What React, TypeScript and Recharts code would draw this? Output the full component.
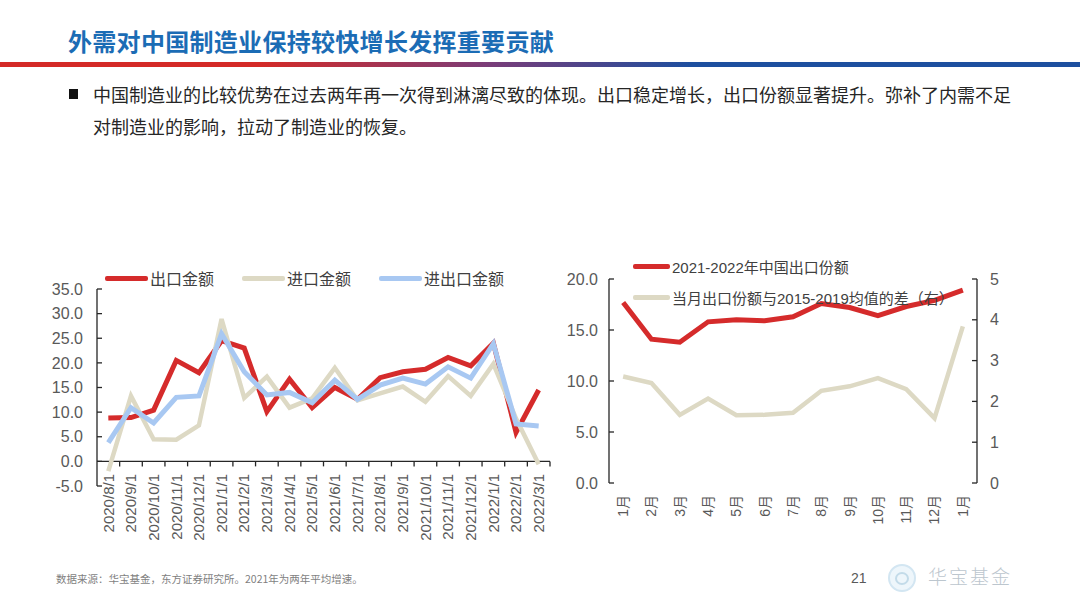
import React from "react";
import { LineChart, Line, XAxis, YAxis, Legend, ReferenceLine } from "recharts";

// 左图：进出口同比增速（%）
const tradeMonths = [
  "2020/8/1", "2020/9/1", "2020/10/1", "2020/11/1", "2020/12/1",
  "2021/1/1", "2021/2/1", "2021/3/1", "2021/4/1", "2021/5/1",
  "2021/6/1", "2021/7/1", "2021/8/1", "2021/9/1", "2021/10/1",
  "2021/11/1", "2021/12/1", "2022/1/1", "2022/2/1", "2022/3/1",
];
const exportGrowth = [8.8, 8.9, 10.4, 20.5, 18.0, 24.5, 23.0, 10.1, 16.7, 10.9, 15.0, 12.6, 17.0, 18.2, 18.7, 21.1, 19.4, 24.0, 5.9, 14.5];
const importGrowth = [-2.0, 13.3, 4.5, 4.4, 7.3, 28.9, 12.9, 17.2, 10.9, 12.8, 19.0, 12.4, 13.8, 15.2, 12.1, 17.3, 13.3, 19.8, 8.7, -0.6];
const totalGrowth = [3.8, 10.9, 7.8, 13.0, 13.3, 25.9, 18.2, 13.5, 14.0, 11.9, 16.5, 12.6, 15.5, 16.9, 15.7, 19.2, 16.9, 23.9, 7.6, 7.2];
const growthTicks = [-5, 0, 5, 10, 15, 20, 25, 30, 35];
const tradeSeries = ["出口金额", "进口金额", "进出口金额"];

// 右图：中国出口份额
const shareMonths = ["1月", "2月", "3月", "4月", "5月", "6月", "7月", "8月", "9月", "10月", "11月", "12月", "1月"];
const exportShare = [17.7, 14.1, 13.8, 15.8, 16.0, 15.9, 16.3, 17.6, 17.2, 16.4, 17.3, 17.9, 18.9];
const shareGap = [2.61, 2.45, 1.67, 2.07, 1.66, 1.67, 1.72, 2.26, 2.37, 2.57, 2.30, 1.59, 3.84];
const shareTicks = [0, 5, 10, 15, 20];
const gapTicks = [0, 1, 2, 3, 4, 5];
const shareSeries = ["2021-2022年中国出口份额", "当月出口份额与2015-2019均值的差（右）"];

const RED = "#d52b2b";
const TAN = "#ddd9c4";
const BLUE = "#a8c8f2";
const AXIS = "#262626";
const LABEL = "#595959";
const FONT = "'Liberation Sans', Arial, 'Noto Sans CJK SC', sans-serif";
const CJK = "'Noto Sans CJK SC', 'Liberation Sans', sans-serif";

const tradeData = tradeMonths.map((m, i) => ({
  idx: i,
  month: m,
  exp: exportGrowth[i],
  imp: importGrowth[i],
  total: totalGrowth[i],
}));

const shareData = shareMonths.map((m, i) => ({
  idx: i,
  month: m,
  share: exportShare[i],
  gap: shareGap[i],
}));

// rotated category label, read bottom-to-top, top end hung at the axis
const VerticalTick = (props: any) => {
  const { x, y, payload, labels, shift, fontSize } = props;
  const ty = y + shift;
  return (
    <text
      x={x}
      y={ty}
      dy="0.35em"
      transform={`rotate(-90 ${x} ${ty})`}
      textAnchor="end"
      fill={LABEL}
      fontSize={fontSize}
      fontFamily={FONT}
    >
      {labels[payload.value]}
    </text>
  );
};

// zero line with tick marks between the categories
const ZeroAxis = (props: any) => {
  const { x1, x2, y1 } = props;
  const n = tradeMonths.length;
  const step = (x2 - x1) / n;
  return (
    <g>
      <line x1={x1} x2={x2} y1={y1} y2={y1} stroke={AXIS} strokeWidth={1.3} />
      {tradeMonths.map((_, i) => (
        <line key={i} x1={x1 + step * (i + 1)} x2={x1 + step * (i + 1)} y1={y1} y2={y1 + 5} stroke={AXIS} strokeWidth={1.3} />
      ))}
    </g>
  );
};

// legend keeps the series order given in `order`
const LegendItems = (props: any) => {
  const { payload, vertical, lineWidth, gap, order } = props;
  const items = [...(payload || [])].sort((a: any, b: any) => order.indexOf(a.value) - order.indexOf(b.value));
  return (
    <div
      style={{
        display: "flex",
        flexDirection: vertical ? "column" : "row",
        gap,
        fontFamily: FONT,
        fontSize: vertical ? 15 : 16,
        color: "#404040",
        whiteSpace: "nowrap",
      }}
    >
      {items.map((p: any) => (
        <div key={p.value} style={{ display: "flex", alignItems: "center", height: 20 }}>
          <span style={{ display: "inline-block", width: lineWidth, height: 5, background: p.color, borderRadius: 2 }} />
          <span style={{ marginLeft: 2 }}>{p.value}</span>
        </div>
      ))}
    </div>
  );
};

const TradeChart = () => (
  <LineChart width={570} height={310} data={tradeData} margin={{ top: 39, right: 20, bottom: 4, left: 0 }}>
    <XAxis
      type="number"
      dataKey="idx"
      domain={[-0.5, tradeMonths.length - 0.5]}
      ticks={tradeData.map((d) => d.idx)}
      interval={0}
      axisLine={false}
      tickLine={false}
      tickSize={0}
      tickMargin={0}
      height={70}
      tick={<VerticalTick labels={tradeMonths} shift={-12} fontSize={15} />}
    />
    <YAxis
      type="number"
      domain={[-5, 35]}
      ticks={growthTicks}
      interval={0}
      width={97}
      tickFormatter={(v: number) => v.toFixed(1)}
      axisLine={{ stroke: AXIS, strokeWidth: 1.3 }}
      tickLine={{ stroke: AXIS, strokeWidth: 1.3 }}
      tickSize={-5}
      tickMargin={19}
      tick={{ fill: LABEL, fontSize: 16, fontFamily: FONT }}
    />
    <ReferenceLine y={0} shape={(p: any) => <ZeroAxis {...p} />} />
    <Legend
      layout="vertical"
      verticalAlign="middle"
      align="center"
      itemSorter={null as any}
      wrapperStyle={{ top: 18, left: 105, width: "auto", height: 20 }}
      content={(p: any) => <LegendItems {...p} order={tradeSeries} lineWidth={43} gap={28} />}
    />
    <Line type="linear" dataKey="exp" name={tradeSeries[0]} stroke={RED} strokeWidth={5} dot={false} isAnimationActive={false} />
    <Line type="linear" dataKey="imp" name={tradeSeries[1]} stroke={TAN} strokeWidth={4.5} dot={false} isAnimationActive={false} />
    <Line type="linear" dataKey="total" name={tradeSeries[2]} stroke={BLUE} strokeWidth={5} dot={false} isAnimationActive={false} />
  </LineChart>
);

const ShareChart = () => (
  <LineChart width={500} height={310} data={shareData} margin={{ top: 39, right: 0, bottom: 7, left: 0 }}>
    <XAxis
      xAxisId="edge"
      type="number"
      dataKey="idx"
      domain={[-0.5, shareMonths.length - 0.5]}
      ticks={shareMonths.slice(1).map((_, i) => i + 0.5)}
      interval={0}
      height={0}
      tick={false}
      axisLine={{ stroke: AXIS, strokeWidth: 1.3 }}
      tickLine={{ stroke: AXIS, strokeWidth: 1.3 }}
      tickSize={-5}
    />
    <XAxis
      xAxisId="label"
      type="number"
      dataKey="idx"
      domain={[-0.5, shareMonths.length - 0.5]}
      ticks={shareData.map((d) => d.idx)}
      interval={0}
      axisLine={false}
      tickLine={false}
      tickSize={0}
      tickMargin={0}
      height={60}
      tick={<VerticalTick labels={shareMonths} shift={12} fontSize={14} />}
    />
    <YAxis
      yAxisId="share"
      type="number"
      domain={[0, 20]}
      ticks={shareTicks}
      interval={0}
      width={89}
      tickFormatter={(v: number) => v.toFixed(1)}
      axisLine={{ stroke: AXIS, strokeWidth: 1.3 }}
      tickLine={{ stroke: AXIS, strokeWidth: 1.3 }}
      tickSize={-5}
      tickMargin={16}
      tick={{ fill: LABEL, fontSize: 16, fontFamily: FONT }}
    />
    <YAxis
      yAxisId="gap"
      orientation="right"
      type="number"
      domain={[0, 5]}
      ticks={gapTicks}
      interval={0}
      width={43}
      axisLine={{ stroke: AXIS, strokeWidth: 1.3 }}
      tickLine={{ stroke: AXIS, strokeWidth: 1.3 }}
      tickSize={-5}
      tickMargin={18}
      tick={{ fill: LABEL, fontSize: 16, fontFamily: FONT }}
    />
    <Legend
      layout="vertical"
      verticalAlign="middle"
      align="center"
      itemSorter={null as any}
      wrapperStyle={{ top: 16, left: 113, width: "auto" }}
      content={(p: any) => <LegendItems {...p} order={shareSeries} vertical lineWidth={37} gap={11} />}
    />
    <Line xAxisId="label" yAxisId="share" type="linear" dataKey="share" name={shareSeries[0]} stroke={RED} strokeWidth={5} dot={false} isAnimationActive={false} />
    <Line xAxisId="label" yAxisId="gap" type="linear" dataKey="gap" name={shareSeries[1]} stroke={TAN} strokeWidth={4.5} dot={false} isAnimationActive={false} />
  </LineChart>
);

export default function App() {
  return (
    <div style={{ position: "absolute", left: 0, top: 0, width: 1080, height: 608, background: "#fff", overflow: "hidden", fontFamily: CJK }}>
      <div style={{ position: "absolute", left: 68, top: 24, fontSize: 24, fontWeight: 700, color: "#1b6cb5", lineHeight: "34px", letterSpacing: 0.3 }}>
        外需对中国制造业保持较快增长发挥重要贡献
      </div>
      <div
        style={{
          position: "absolute",
          left: 0,
          top: 62,
          width: 1080,
          height: 5,
          background: "linear-gradient(90deg, #d42a27 0%, #d42a27 24%, #7b3c78 45%, #1d4f9f 64%, #1d4f9f 100%)",
        }}
      />
      <div style={{ position: "absolute", left: 69, top: 89, width: 9, height: 10, background: "#111" }} />
      <div style={{ position: "absolute", left: 93, top: 78, width: 930, fontSize: 18, lineHeight: "32px", color: "#262626" }}>
        中国制造业的比较优势在过去两年再一次得到淋漓尽致的体现。出口稳定增长，出口份额显著提升。弥补了内需不足
        <br />
        对制造业的影响，拉动了制造业的恢复。
      </div>

      <div style={{ position: "absolute", left: 0, top: 250 }}>
        <TradeChart />
      </div>
      <div style={{ position: "absolute", left: 520, top: 240 }}>
        <ShareChart />
      </div>

      <div style={{ position: "absolute", left: 56, top: 571, fontSize: 10.5, color: "#7f7f7f", whiteSpace: "nowrap" }}>
        数据来源：华宝基金，东方证券研究所。2021年为两年平均增速。
      </div>
      <div style={{ position: "absolute", left: 851, top: 570, fontSize: 14, color: "#595959", fontFamily: FONT }}>21</div>
      <div
        style={{
          position: "absolute",
          left: 888,
          top: 564,
          width: 24,
          height: 24,
          borderRadius: "50%",
          border: "2px solid #d3e6f2",
          background: "#eef6fb",
        }}
      />
      <div style={{ position: "absolute", left: 895, top: 572, width: 10, height: 9, borderRadius: "50%", border: "2px solid #c3dbe9" }} />
      <div style={{ position: "absolute", left: 928, top: 562, fontSize: 19, color: "#bcc6ce", letterSpacing: 2, fontWeight: 300 }}>
        华宝基金
      </div>
    </div>
  );
}
